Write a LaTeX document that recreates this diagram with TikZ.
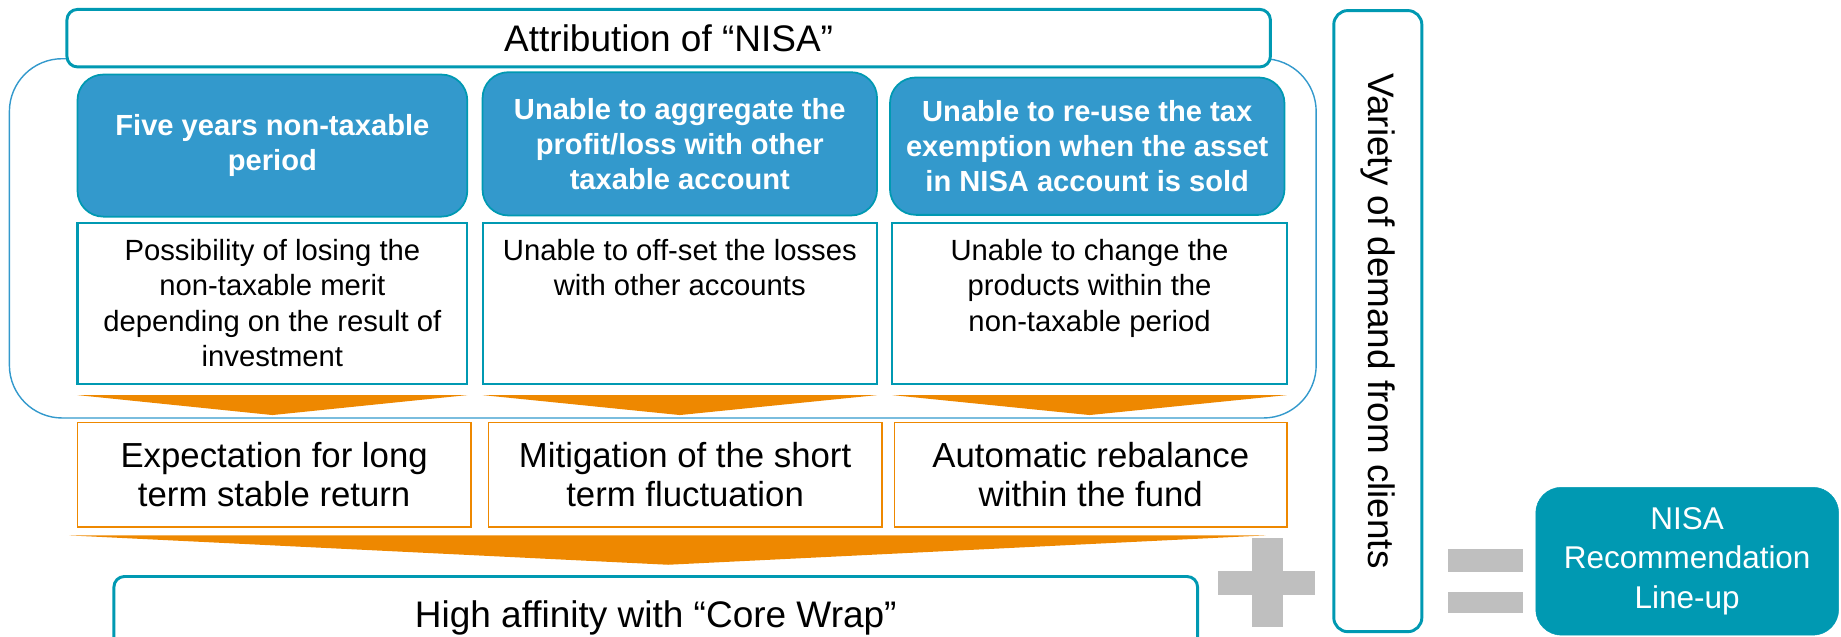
\documentclass[tikz,border=0pt]{standalone}
\usepackage{fontspec}
\setmainfont{Liberation Sans}
\usepackage{xcolor}
\definecolor{tteal}{HTML}{0099B2}
\definecolor{bblue}{HTML}{3399CC}
\definecolor{oorange}{HTML}{EE8800}
\definecolor{ggrey}{HTML}{BFBFBF}
\usetikzlibrary{positioning}

\newcommand{\fsz}[2]{\fontsize{#1}{#2}\selectfont}

\tikzset{
	titlebox/.style={draw=tteal, line width=2.5pt, rounded corners=9pt, fill=white, font=\fsz{31.5pt}{38pt}},
	headbox/.style={draw=tteal, line width=1.5pt, fill=bblue, rounded corners=22pt, text=white, font=\bfseries\fsz{24.8pt}{30pt}},
	detailbox/.style={draw=tteal, line width=1.8pt, fill=white},
	detailtext/.style={font=\fsz{24.9pt}{30pt}},
	meritbox/.style={draw=oorange, line width=1.3pt, fill=white, font=\fsz{29.6pt}{33pt}},
	chevron/.style={fill=oorange},
	sign/.style={fill=ggrey}
}

\begin{document}
\begin{tikzpicture}[x=1pt,y=-1pt,every node/.style={inner sep=0pt,outer sep=0pt,align=center}]
				\useasboundingbox (0,0) rectangle (1568,542);
				\draw[bblue, line width=1.2pt, rounded corners=45pt] (8,50) rectangle (1121,356);
				\node[titlebox, minimum width=1025pt, minimum height=49pt] (attr) at (569.5,32.5) {Attribution of “NISA”};
				\node[headbox, minimum width=332pt, minimum height=121pt] (hd1) at (232,124) {Five years non-taxable\\period};
				\node[headbox, minimum width=336pt, minimum height=122pt] (hd2) at (579,122.5) {Unable to aggregate the\\profit/loss with other\\taxable account};
				\node[headbox, minimum width=336pt, minimum height=117pt] (hd3) at (926,124.5) {Unable to re-use the tax\\exemption when the asset\\in NISA account is sold};
				\node[detailbox, minimum width=332pt, minimum height=137pt] (wb1) at (232,258.5) {};
				\node[detailbox, minimum width=336pt, minimum height=137pt] (wb2) at (579,258.5) {};
				\node[detailbox, minimum width=336pt, minimum height=137pt] (wb3) at (928,258.5) {};
				\node[detailtext, below=14pt of wb1.north] (wt1) {Possibility of losing the\\non-taxable merit\\depending on the result of\\investment};
				\node[detailtext, below=14pt of wb2.north] (wt2) {Unable to off-set the losses\\with other accounts};
				\node[detailtext, below=14pt of wb3.north] (wt3) {Unable to change the\\products within the\\non-taxable period};
				\fill[chevron] ([yshift=-9.5pt]wb1.south west) -- ([yshift=-9.5pt]wb1.south east) -- ([yshift=-26.5pt]wb1.south) -- cycle;
				\fill[chevron] ([yshift=-9.5pt]wb2.south west) -- ([yshift=-9.5pt]wb2.south east) -- ([yshift=-26.5pt]wb2.south) -- cycle;
				\fill[chevron] ([yshift=-9.5pt]wb3.south west) -- ([yshift=-9.5pt]wb3.south east) -- ([yshift=-26.5pt]wb3.south) -- cycle;
				\node[meritbox, minimum width=335pt, minimum height=89pt] (ef1) at (233.5,404.5) {Expectation for long\\term stable return};
				\node[meritbox, minimum width=335pt, minimum height=89pt] (ef2) at (583.5,404.5) {Mitigation of the short\\term fluctuation};
				\node[meritbox, minimum width=334pt, minimum height=89pt] (ef3) at (929,404.5) {Automatic rebalance\\within the fund};
				\coordinate (fl) at (59,456);
				\coordinate (fr) at (1078,456);
				\coordinate (ft) at (569,481);
				\fill[chevron] (fl) -- (fr) -- (ft) -- cycle;
				\node[titlebox, minimum width=923pt, minimum height=70pt] (core) at (558.5,526) {High affinity with “Core Wrap”};
				\fill[sign] (1066,458) rectangle (1093,534);
				\fill[sign] (1037,486) rectangle (1120,507);
				\node[draw=tteal, line width=2.5pt, rounded corners=12pt, minimum width=75pt, minimum height=529pt, font=\fsz{31.4pt}{38pt}] (demand) at (1173.5,273.5) {};
				\node[rotate=-90, font=\fsz{31.4pt}{38pt}] (dtext) at (demand.center) {Variety of demand from clients};
				\fill[sign] (1233,468) rectangle (1297,487);
				\fill[sign] (1233,504) rectangle (1297,522);
				\node[fill=tteal, draw=tteal, rounded corners=22pt, minimum width=258pt, minimum height=126pt, text=white, font=\fsz{26.8pt}{34pt}] (lineup) at (1437,478) {NISA\\Recommendation\\Line-up};
			\end{tikzpicture}
\end{document}
